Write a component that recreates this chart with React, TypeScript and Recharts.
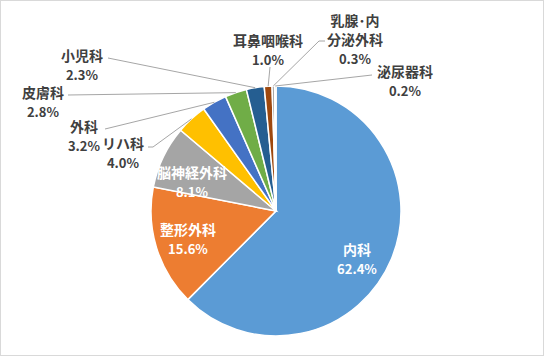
import { PieChart, Pie, Cell } from "recharts";

const departments = ["内科", "整形外科", "脳神経外科", "リハ科", "外科", "皮膚科", "小児科", "耳鼻咽喉科", "乳腺･内分泌外科", "泌尿器科"];
const shares = [62.4, 15.6, 8.1, 4.0, 3.2, 2.8, 2.3, 1.0, 0.3, 0.2];
const colors = ["#5B9BD5", "#ED7D31", "#A5A5A5", "#FFC000", "#4472C4", "#70AD47", "#255E91", "#9E480E", "#636363", "#997300"];

// label placement relative to pie centre (Excel-style manual layout)
const labelLayout = [
  { dx: 81, dy: 38, lines: ["内科"], inside: true, leader: [] as number[][] },
  { dx: -88, dy: 18, lines: ["整形外科"], inside: true, leader: [] },
  { dx: -84, dy: -39, lines: ["脳神経外科"], inside: true, leader: [] },
  { dx: -153, dy: -68, lines: ["リハ科"], inside: false, leader: [[-128, -64], [-123, -64]] },
  { dx: -192, dy: -85, lines: ["外科"], inside: false, leader: [[-171, -82]] },
  { dx: -233, dy: -119, lines: ["皮膚科"], inside: false, leader: [[-208, -116]] },
  { dx: -194, dy: -156, lines: ["小児科"], inside: false, leader: [[-168, -153]] },
  { dx: -8, dy: -171, lines: ["耳鼻咽喉科"], inside: false, leader: [[-6, -144]] },
  { dx: 79, dy: -191, lines: ["乳腺･内", "分泌外科"], inside: false, leader: [[49, -170], [43, -170]] },
  { dx: 129, dy: -140, lines: ["泌尿器科"], inside: false, leader: [[96, -136]] },
];

const data = departments.map((name, i) => ({ name, value: shares[i] }));

const RAD = Math.PI / 180;
const FONT = "'Noto Sans CJK JP', 'Noto Sans', sans-serif";
const LINE_H = 19;

function renderLabel(props: any) {
  const { cx, cy, midAngle, outerRadius, index, value } = props;
  const layout = labelLayout[index];
  const color = layout.inside ? "#ffffff" : "#404040";
  const tx = cx + layout.dx;
  const ty = cy + layout.dy;
  const ex = cx + outerRadius * Math.cos(-midAngle * RAD);
  const ey = cy + outerRadius * Math.sin(-midAngle * RAD);
  const pts = layout.leader.map(([x, y]) => `${cx + x},${cy + y}`);
  return (
    <g key={`label-${index}`}>
      {pts.length > 0 && (
        <polyline points={[...pts, `${ex},${ey}`].join(" ")} fill="none" stroke="#a6a6a6" strokeWidth={1} />
      )}
      {layout.lines.map((line, li) => (
        <text key={li} x={tx} y={ty + li * LINE_H} fill={color} textAnchor="middle" dominantBaseline="central"
          fontFamily={FONT} fontSize={14} fontWeight="bold">
          {line}
        </text>
      ))}
      <text x={tx} y={ty + layout.lines.length * LINE_H} fill={color} textAnchor="middle" dominantBaseline="central"
        fontFamily={FONT} fontSize={13} fontWeight="bold">
        {value.toFixed(1)}%
      </text>
    </g>
  );
}

export default function App() {
  return (
    <div style={{ position: "relative", width: 544, height: 356, background: "#fff" }}>
      <style>{"body{margin:0}"}</style>
      <PieChart width={544} height={356}>
        <Pie
          data={data}
          dataKey="value"
          nameKey="name"
          cx={271}
          cy={206}
          outerRadius={125}
          startAngle={90}
          endAngle={-270}
          stroke="#ffffff"
          strokeWidth={1.5}
          label={renderLabel}
          labelLine={false}
          isAnimationActive={false}
        >
          {data.map((d, i) => (
            <Cell key={d.name} fill={colors[i]} />
          ))}
        </Pie>
      </PieChart>
      <div style={{ position: "absolute", inset: 0, border: "1px solid #d9d9d9", pointerEvents: "none" }} />
    </div>
  );
}
